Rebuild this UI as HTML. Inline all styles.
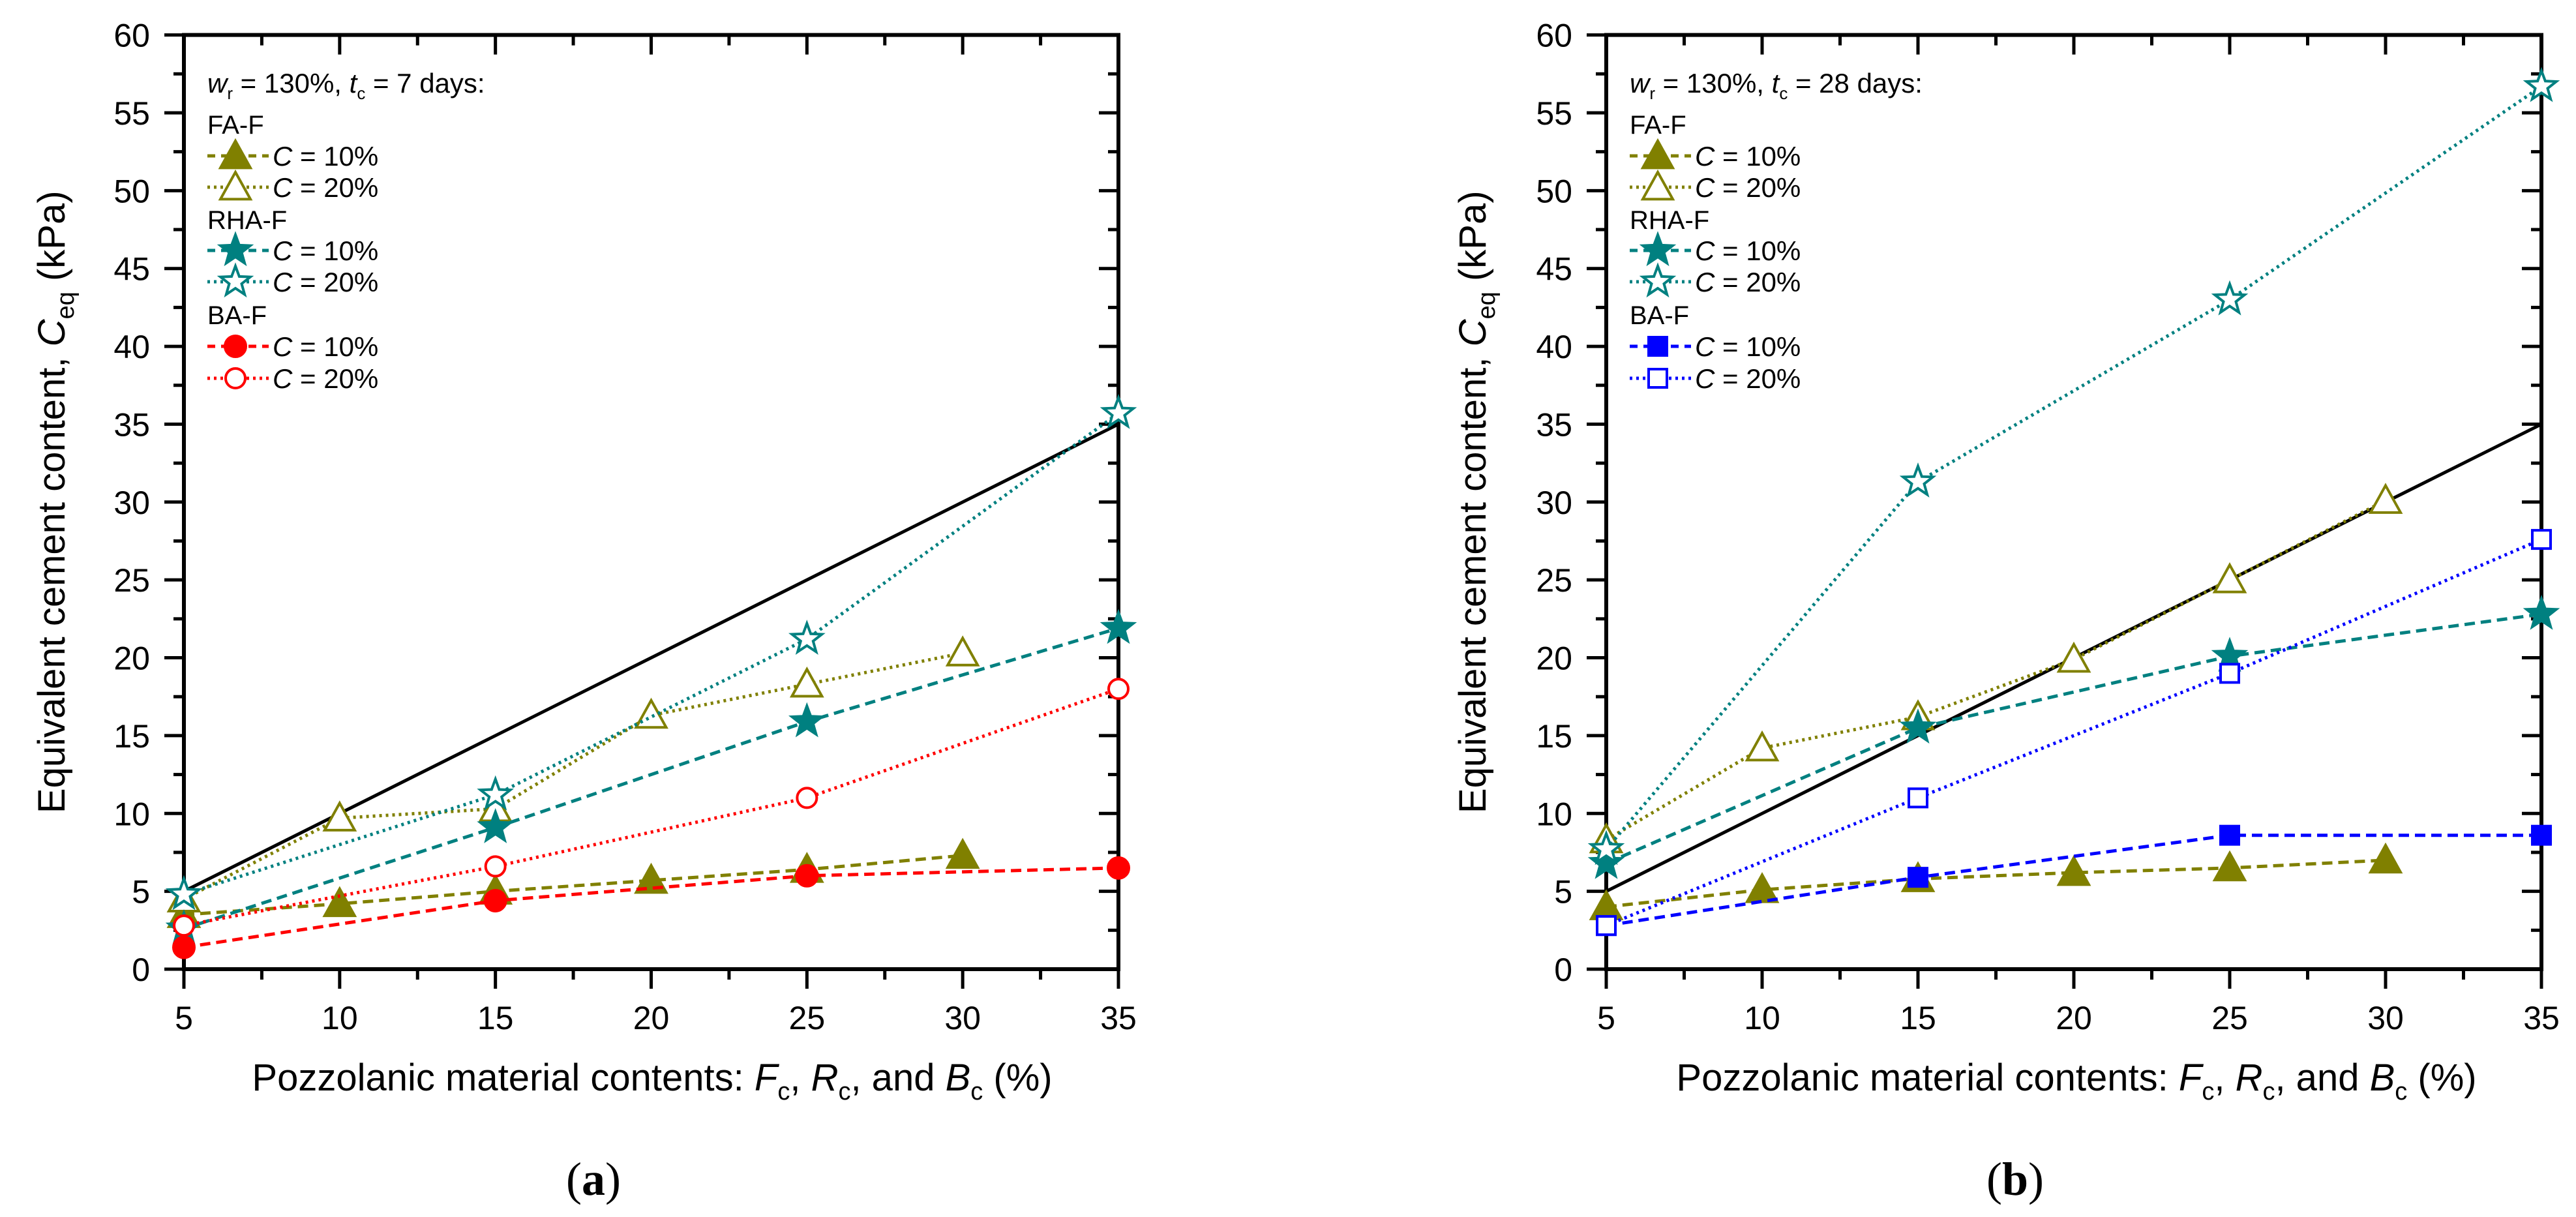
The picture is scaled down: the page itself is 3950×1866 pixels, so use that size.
<!DOCTYPE html>
<html><head><meta charset="utf-8"><style>
html,body{margin:0;padding:0;background:#fff}
svg{display:block}
text{font-family:"Liberation Sans",Arial,sans-serif;fill:#000}
</style></head><body>
<svg id="chart" width="3950" height="1866" viewBox="0 0 3950 1866" xmlns="http://www.w3.org/2000/svg"></svg>
<script>
const xTicks=[5,10,15,20,25,30,35];
const yTicks=[0,5,10,15,20,25,30,35,40,45,50,55,60];
const xFA=[5,10,15,20,25,30];
const xRB=[5,15,25,35];
// Panel (a) 7 days
const aFA10=[3.5,4.2,5.0,5.7,6.4,7.3];
const aFA20=[4.5,9.7,10.3,16.3,18.3,20.3];
const aRHA10=[2.6,9.1,15.9,21.9];
const aRHA20=[4.8,11.2,21.2,35.7];
const aBA10=[1.4,4.4,6.0,6.5];
const aBA20=[2.8,6.6,11.0,18.0];
// Panel (b) 28 days
const bFA10=[4.0,5.1,5.8,6.2,6.5,7.0];
const bFA20=[8.3,14.2,16.2,19.9,25.0,30.1];
const bRHA10=[6.8,15.5,20.1,22.8];
const bRHA20=[7.7,31.3,43.0,56.7];
const bBA10=[2.8,5.9,8.6,8.6];
const bBA20=[2.8,11.0,19.0,27.6];
const refX=[5,35];
const refY=[5,35];

const NS="http://www.w3.org/2000/svg";
const svg=document.getElementById('chart');
function el(tag,attrs,parent){const e=document.createElementNS(NS,tag);for(const k in attrs)e.setAttribute(k,attrs[k]);(parent||svg).appendChild(e);return e;}

const OL='#808000',TE='#008080',RD='#ff0000',BL='#0000ff';
const DASH='16,9',DOT='4,6';

function marker(g,type,filled,color,cx,cy){
  const fill=filled?color:'#fff';const sw=4;let m;
  if(type==='tri'){const s=23;m=el('polygon',{points:`${cx},${cy-s} ${cx+s},${cy+s*0.8} ${cx-s},${cy+s*0.8}`,fill:fill,stroke:color,'stroke-width':sw},g);}
  else if(type==='star'){let p=[];for(let i=0;i<10;i++){const r=i%2?10:24;const a=-Math.PI/2+i*Math.PI/5;p.push((cx+r*Math.cos(a)).toFixed(1)+','+(cy+r*Math.sin(a)).toFixed(1));}
    m=el('polygon',{points:p.join(' '),fill:fill,stroke:color,'stroke-width':sw},g);}
  else if(type==='circ'){m=el('circle',{cx:cx,cy:cy,r:filled?16:15,fill:fill,stroke:color,'stroke-width':sw},g);}
  else {m=el('rect',{x:cx-14,y:cy-14,width:28,height:28,fill:fill,stroke:color,'stroke-width':sw},g);}
  return m;
}

function panel(id,x0,x1,yTitleX,series,title,label,labelX,titleX){
  const y0=1486,y1=53.6;
  const X=v=>x0+(v-5)/30*(x1-x0);
  const Y=v=>y0-(v/60)*(y0-y1);
  const g=el('g',{});
  
  
  const ax=el('g',{stroke:'#000','stroke-width':5},g);
  
  
  for(let v=5;v<=35;v+=2.5){const maj=(v%5===0);const L=maj?30:16;
    el('line',{x1:X(v),x2:X(v),y1:y0,y2:y0+L},ax);
    el('line',{x1:X(v),x2:X(v),y1:y1,y2:y1+L},ax);}
  for(let v=0;v<=60;v+=2.5){const maj=(v%5===0);const L=maj?30:16;
    el('line',{x1:x0,x2:x0-L,y1:Y(v),y2:Y(v)},ax);
    el('line',{x1:x1,x2:x1-L,y1:Y(v),y2:Y(v)},ax);}
  el('rect',{x:x0,y:y1,width:x1-x0,height:y0-y1,fill:'none',stroke:'#000','stroke-width':6},g);
  xTicks.forEach(v=>{const t=el('text',{x:X(v),y:1578,'font-size':50,'text-anchor':'middle'},g);t.textContent=v;
    
    });
  yTicks.forEach(v=>{const t=el('text',{x:x0-52,y:Y(v)+18,'font-size':50,'text-anchor':'end'},g);t.textContent=v;
    
    });
  const yt=el('text',{x:0,y:0,'font-size':58,'text-anchor':'middle',transform:`translate(${yTitleX+20},${(y0+y1)/2}) rotate(-90)`},g);
  yt.innerHTML='Equivalent cement content, <tspan font-style="italic">C</tspan><tspan font-size="38" dy="14">eq</tspan><tspan dy="-14"> (kPa)</tspan>';
  
  
  const xt=el('text',{x:titleX,y:1672,'font-size':58,'text-anchor':'middle'},g);
  xt.innerHTML='Pozzolanic material contents: <tspan font-style="italic">F</tspan><tspan font-size="38" dy="14">c</tspan><tspan dy="-14">, </tspan><tspan font-style="italic">R</tspan><tspan font-size="38" dy="14">c</tspan><tspan dy="-14">, and </tspan><tspan font-style="italic">B</tspan><tspan font-size="38" dy="14">c</tspan><tspan dy="-14"> (%)</tspan>';
  
  
  const pl=el('text',{x:labelX,y:1832,'font-size':72,'text-anchor':'middle',style:'font-family:"Liberation Serif",serif'},g);
  pl.innerHTML='(<tspan font-weight="bold">'+label+'</tspan>)';
  
  
  const rl=el('line',{x1:X(refX[0]),y1:Y(refY[0]),x2:X(refX[1]),y2:Y(refY[1]),stroke:'#000','stroke-width':5},g);
  
  
  series.forEach(s=>{
    const sg=el('g',{},g);
    
    
    const pts=s.x.map((v,i)=>X(v)+','+Y(s.y[i])).join(' ');
    el('polyline',{points:pts,fill:'none',stroke:s.color,'stroke-width':5,'stroke-dasharray':s.dash},sg);
    s.x.forEach((v,i)=>{const m=marker(sg,s.type,s.filled,s.color,X(v),Y(s.y[i]));
      
      });
  });
  const lg=el('g',{},g);
  
  
  const lx=x0+36;
  const tt=el('text',{x:lx,y:142,'font-size':42},lg);
  tt.innerHTML='<tspan font-style="italic">w</tspan><tspan font-size="26" dy="10">r</tspan><tspan dy="-10"> = 130%, </tspan><tspan font-style="italic">t</tspan><tspan font-size="26" dy="10">c</tspan><tspan dy="-10"> = '+title+' days:</tspan>';
  const groups=[['FA-F',190],['RHA-F',336],['BA-F',482]];
  groups.forEach(gr=>{const t=el('text',{x:lx,y:gr[1]+15,'font-size':40},lg);t.textContent=gr[0];
    
    });
  const rows=[239,287,384,432,531,580];
  series.forEach((s,i)=>{const ry=rows[i];
    const e=el('g',{},lg);
    
    
    el('line',{x1:lx,x2:lx+94,y1:ry,y2:ry,stroke:s.color,'stroke-width':5,'stroke-dasharray':(s.dash===DASH?'12,9':'4,6')},e);
    marker(e,s.type,s.filled,s.color,lx+43,ry);
    const t=el('text',{x:lx+100,y:ry+15,'font-size':42},e);
    t.innerHTML='<tspan font-style="italic">C</tspan> = '+s.lab;});
}

panel('a',282,1715,79,[
  {name:'fa-f-c10',x:xFA,y:aFA10,color:OL,dash:DASH,type:'tri',filled:true,lab:'10%'},
  {name:'fa-f-c20',x:xFA,y:aFA20,color:OL,dash:DOT,type:'tri',filled:false,lab:'20%'},
  {name:'rha-f-c10',x:xRB,y:aRHA10,color:TE,dash:DASH,type:'star',filled:true,lab:'10%'},
  {name:'rha-f-c20',x:xRB,y:aRHA20,color:TE,dash:DOT,type:'star',filled:false,lab:'20%'},
  {name:'ba-f-c10',x:xRB,y:aBA10,color:RD,dash:DASH,type:'circ',filled:true,lab:'10%'},
  {name:'ba-f-c20',x:xRB,y:aBA20,color:RD,dash:DOT,type:'circ',filled:false,lab:'20%'}
],'7','a',910,1000);

panel('b',2463,3897,2258,[
  {name:'fa-f-c10',x:xFA,y:bFA10,color:OL,dash:DASH,type:'tri',filled:true,lab:'10%'},
  {name:'fa-f-c20',x:xFA,y:bFA20,color:OL,dash:DOT,type:'tri',filled:false,lab:'20%'},
  {name:'rha-f-c10',x:xRB,y:bRHA10,color:TE,dash:DASH,type:'star',filled:true,lab:'10%'},
  {name:'rha-f-c20',x:xRB,y:bRHA20,color:TE,dash:DOT,type:'star',filled:false,lab:'20%'},
  {name:'ba-f-c10',x:xRB,y:bBA10,color:BL,dash:DASH,type:'sq',filled:true,lab:'10%'},
  {name:'ba-f-c20',x:xRB,y:bBA20,color:BL,dash:DOT,type:'sq',filled:false,lab:'20%'}
],'28','b',3090,3184);
</script>
</body></html>
